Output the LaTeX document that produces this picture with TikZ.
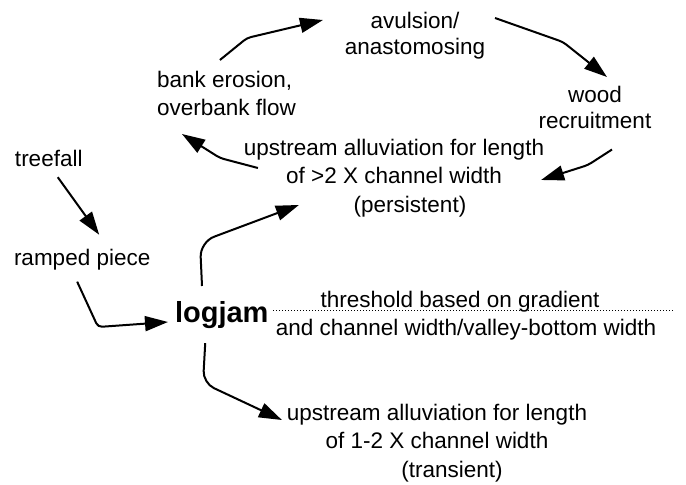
\documentclass[tikz,border=0pt]{standalone}
\usepackage{fontspec}
\setmainfont{Liberation Sans}
\usetikzlibrary{arrows.meta}

\begin{document}
\begin{tikzpicture}[
    x=1pt, y=-1pt,
    lbl/.style={inner sep=0pt, outer sep=0pt, font=\fontsize{22.5}{28.5}\selectfont},
    big/.style={lbl, font=\fontsize{29}{34}\selectfont\bfseries},
    arr/.style={-{Triangle[length=23pt,width=15pt]}, line width=2pt, rounded corners=4pt},
    thr/.style={line width=1pt, dash pattern=on 1.2pt off 1.8pt}
  ]
  \useasboundingbox (0,0) rectangle (686,485);

  \node[lbl, anchor=north, align=center] (avulsion) at (415,12) {avulsion/\\[-2.5pt]anastomosing};
  \node[lbl, anchor=north west, align=left] (bank) at (157,71) {bank erosion,\\overbank flow};
  \node[lbl, anchor=north, align=center] (wood) at (595,86) {wood\\[-2.5pt]recruitment};
  \node[lbl, anchor=north, align=center] (persist) at (394,139)
    {upstream alluviation for length\\of >2 X channel width\\\hspace*{32pt}(persistent)};

  \node[lbl, anchor=base west] (treefall) at (15,166) {treefall};
  \node[lbl, anchor=base west] (ramped)   at (14,265) {ramped piece};
  \node[big, anchor=base west] (logjam)   at (175,322) {logjam};

  \node[lbl, anchor=north, align=center] (thresh) at (466,291)
    {threshold based on gradient\hspace*{12pt}\\and channel width/valley-bottom width};
  \node[lbl, anchor=north, align=center] (transient) at (437,404)
    {upstream alluviation for length\\of 1-2 X channel width\\\hspace*{30pt}(transient)};

  \coordinate (thrstart) at (273,310);
  \coordinate (thrend)   at (673,310);
  \draw[thr] (thrstart) -- (thrend);

  \draw[arr] ([shift={(-6.5,-11)}]bank.north) -- (247,38) -- ([shift={(-22,8)}]avulsion.north west);
  \draw[arr] ([shift={(10,6)}]avulsion.north east) -- (563,42) -- ([shift={(12,-9)}]wood.north);
  \draw[arr] ([shift={(17,21)}]wood.south) -- (588,165) -- ([shift={(-3,2)}]persist.east);
  \draw[arr] ([shift={(14,-10)}]persist.west) -- (220,158) -- ([shift={(25,18)}]bank.south west);
  \draw[arr] ([shift={(9,11)}]treefall.south) -- ([shift={(17,-14)}]ramped.north);
  \draw[arr] ([shift={(-5,12)}]ramped.south) -- (98,327) -- ([shift={(-7,0)}]logjam.base west);
  \draw[arr, rounded corners=15pt] ([shift={(27,-15)}]logjam.north west) -- (200,242) -- ([shift={(55,-12)}]persist.south west);
  \draw[arr, rounded corners=12pt] ([shift={(-16.5,15)}]logjam.south) -- (203,383) -- ([shift={(-5,16)}]transient.north west);
\end{tikzpicture}
\end{document}
